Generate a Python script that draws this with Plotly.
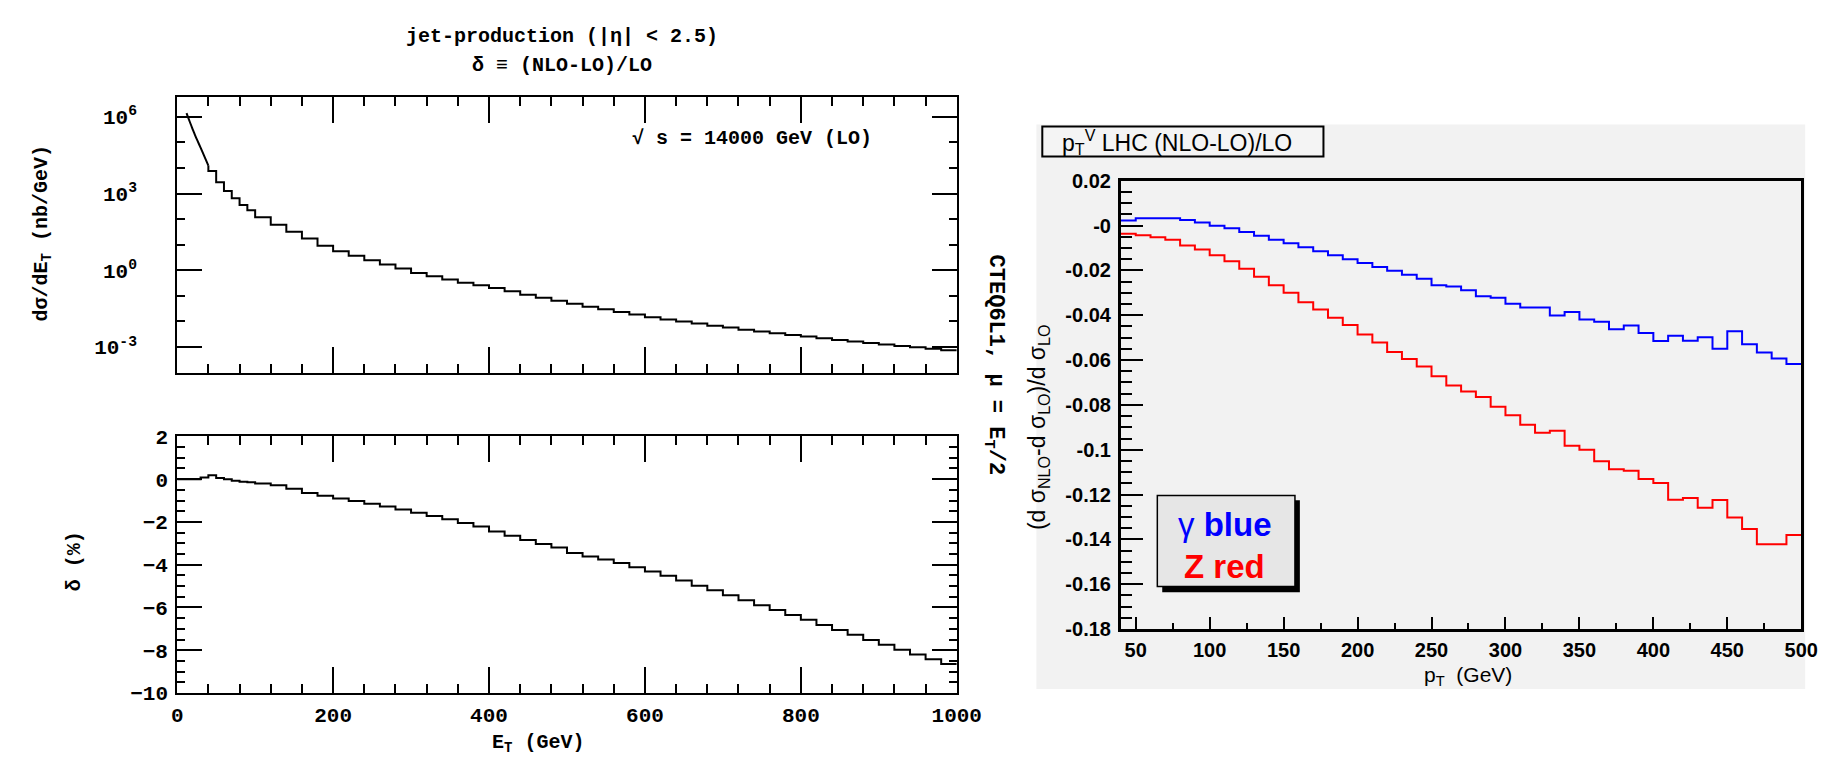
import plotly.graph_objects as go

W, H = 1832, 759

# ---------------- data: left, LO jet cross section (nb/GeV) ----------------
# steep low-ET part (read as a smooth curve)
et_lo_start = [12, 14, 16, 18, 20, 23, 26, 30, 35, 40]
dsig_lo_start = [1.4e6, 9.5e5, 6.6e5, 4.6e5, 3.2e5, 1.9e5, 1.17e5, 6.3e4, 2.8e4, 1.25e4]
# histogram part
et_edges_lo = [40, 50, 60, 70, 80, 90, 100] + list(range(120, 1001, 20))
dsig_lo = [7.6e3, 2.8e3, 1.26e3, 660, 355, 224,
           120, 60, 32, 17.4, 9.1, 5.6, 3.7, 2.5, 1.70, 1.17,
           0.79, 0.59, 0.44, 0.33, 0.263, 0.204, 0.151, 0.112, 0.085, 0.065,
           0.049, 0.038, 0.030, 0.0234, 0.0186, 0.0148, 0.0120, 0.0100, 0.0083, 0.0069,
           0.0058, 0.0048, 0.0041, 0.0035, 0.0030, 0.0026, 0.0022, 0.0019, 0.00166, 0.00145,
           0.00126, 0.00110, 0.00098, 0.00087, 0.00076]

# ---------------- data: left, delta (%) ----------------
et_edges_delta = list(range(0, 101, 10)) + list(range(120, 1001, 20))
delta_pct = [0.0, 0.0, 0.0, 0.08, 0.18, 0.05, 0.0, -0.08, -0.12, -0.15,
             -0.20, -0.28, -0.45, -0.65, -0.78, -0.90, -1.02, -1.15, -1.28, -1.42,
             -1.57, -1.72, -1.88, -2.05, -2.22, -2.45, -2.65, -2.85, -3.03, -3.20,
             -3.45, -3.62, -3.76, -3.92, -4.12, -4.32, -4.52, -4.74, -4.98, -5.20,
             -5.43, -5.66, -5.90, -6.12, -6.35, -6.58, -6.82, -7.05, -7.28, -7.52,
             -7.75, -7.98, -8.20, -8.42, -8.65]

# ---------------- data: right, (NLO-LO)/LO vs pT ----------------
pt_edges = list(range(40, 501, 10))
gamma_ratio = [0.0022, 0.0033, 0.0033, 0.0033, 0.0025, 0.0014, -0.0001, -0.0012, -0.0029, -0.0046,
               -0.0063, -0.0079, -0.0097, -0.0115, -0.0133, -0.0150, -0.0167, -0.0185, -0.0202, -0.0219,
               -0.0237, -0.0266, -0.0272, -0.0289, -0.0315, -0.0322, -0.0349, -0.0365, -0.0365, -0.0401,
               -0.0386, -0.0419, -0.0429, -0.0462, -0.0446, -0.0479, -0.0515, -0.0491, -0.0514, -0.0498,
               -0.0550, -0.0472, -0.0530, -0.0566, -0.0593, -0.0618]
z_ratio = [-0.0036, -0.0043, -0.0052, -0.0063, -0.0089, -0.0107, -0.0133, -0.0159, -0.0193, -0.0228,
           -0.0266, -0.0300, -0.0342, -0.0375, -0.0411, -0.0444, -0.0486, -0.0522, -0.0564, -0.0595,
           -0.0629, -0.0672, -0.0714, -0.0740, -0.0765, -0.0808, -0.0846, -0.0888, -0.0924, -0.0915,
           -0.0982, -0.1000, -0.1051, -0.1087, -0.1094, -0.1130, -0.1148, -0.1223, -0.1215, -0.1259,
           -0.1224, -0.1302, -0.1354, -0.1422, -0.1422, -0.1380]

log_ticks = [1e-3, 1, 1e3, 1e6]
log_ticktext = ["10<sup>-3</sup>", "10<sup>0</sup>", "10<sup>3</sup>", "10<sup>6</sup>"]
ratio_ticks = [0.02, 0.0, -0.02, -0.04, -0.06, -0.08, -0.1, -0.12, -0.14, -0.16, -0.18]
ratio_ticktext = ["0.02", "-0", "-0.02", "-0.04", "-0.06", "-0.08", "-0.1", "-0.12", "-0.14", "-0.16", "-0.18"]


def px(x):
    return x / W


def py(y):
    return 1 - y / H


MONO = "Liberation Mono"
SANS = "Liberation Sans"


def steps(edges, vals):
    return list(edges), list(vals) + [vals[-1]]


fig = go.Figure()

fig.add_trace(go.Scatter(x=et_lo_start, y=dsig_lo_start, mode="lines",
                         line=dict(color="black", width=2, shape="spline", smoothing=0.6),
                         xaxis="x", yaxis="y", showlegend=False))
x, y = steps(et_edges_lo, dsig_lo)
fig.add_trace(go.Scatter(x=[et_lo_start[-1]] + x, y=[dsig_lo_start[-1]] + y, mode="lines",
                         line=dict(shape="hv", color="black", width=2),
                         xaxis="x", yaxis="y", showlegend=False))
x, y = steps(et_edges_delta, delta_pct)
fig.add_trace(go.Scatter(x=x, y=y, mode="lines", line=dict(shape="hv", color="black", width=2),
                         xaxis="x2", yaxis="y2", showlegend=False))
x, y = steps(pt_edges, gamma_ratio)
fig.add_trace(go.Scatter(x=x, y=y, mode="lines", line=dict(shape="hv", color="#0000ff", width=2),
                         xaxis="x3", yaxis="y3", showlegend=False))
x, y = steps(pt_edges, z_ratio)
fig.add_trace(go.Scatter(x=x, y=y, mode="lines", line=dict(shape="hv", color="#ff0000", width=2),
                         xaxis="x3", yaxis="y3", showlegend=False))

left_tickfont = dict(family=MONO, size=21, color="black", weight="bold")
right_tickfont = dict(family=SANS, size=20, color="black", weight="bold")

common_left = dict(showgrid=False, zeroline=False, showline=True, linecolor="black", linewidth=2,
                   mirror="allticks", ticks="inside", tickcolor="black", tickwidth=2)

fig.update_layout(
    width=W, height=H,
    margin=dict(l=0, r=0, t=0, b=0),
    paper_bgcolor="white",
    plot_bgcolor="rgba(0,0,0,0)",
    xaxis=dict(domain=[px(166), px(959)], range=[0, 1000], anchor="y", dtick=200, tick0=0,
               ticklen=26, showticklabels=False,
               minor=dict(dtick=40, tick0=0, ticklen=9, ticks="inside", tickwidth=2, tickcolor="black"),
               **common_left),
    yaxis=dict(domain=[py(366), py(81)], type="log", range=[-4.03, 6.76], anchor="x",
               tickmode="array", tickvals=log_ticks, ticktext=log_ticktext, ticklen=25,
               tickfont=left_tickfont, ticklabelstandoff=34,
               minor=dict(dtick=1, ticklen=8, ticks="inside", tickwidth=2, tickcolor="black"),
               **common_left),
    xaxis2=dict(domain=[px(166), px(959)], range=[0, 1000], anchor="y2", dtick=200, tick0=0,
                ticklen=26, tickfont=left_tickfont, ticklabelstandoff=2,
                minor=dict(dtick=40, tick0=0, ticklen=9, ticks="inside", tickwidth=2, tickcolor="black"),
                **common_left),
    yaxis2=dict(domain=[py(696), py(431)], range=[-10, 2], anchor="x2", dtick=2, tick0=0,
                ticklen=25, tickfont=left_tickfont, ticklabelstandoff=3,
                minor=dict(dtick=0.5, tick0=0, ticklen=8, ticks="inside", tickwidth=2, tickcolor="black"),
                **common_left),
    xaxis3=dict(domain=[px(1126), px(1818)], range=[40, 500], anchor="y3", dtick=50, tick0=0,
                showgrid=False, zeroline=False, showline=True, linecolor="black", linewidth=3,
                mirror=True, ticks="inside", ticklen=12, tickwidth=2, tickcolor="black",
                tickfont=right_tickfont, ticklabelstandoff=1,
                minor=dict(dtick=25, tick0=0, ticklen=6, ticks="inside", tickwidth=2, tickcolor="black")),
    yaxis3=dict(domain=[py(630), py(167)], range=[-0.18, 0.02], anchor="x3",
                tickmode="array", tickvals=ratio_ticks, ticktext=ratio_ticktext,
                showgrid=False, zeroline=False, showline=True, linecolor="black", linewidth=3,
                mirror=True, ticks="inside", ticklen=22, tickwidth=2, tickcolor="black",
                tickfont=right_tickfont, ticklabelstandoff=3,
                minor=dict(dtick=0.005, tick0=0, ticklen=11, ticks="inside", tickwidth=2, tickcolor="black")),
)

shapes = [
    dict(type="rect", xref="paper", yref="paper", x0=px(1040), x1=px(1822), y0=py(692), y1=py(109),
         fillcolor="#f2f2f2", line=dict(width=0), layer="below"),
    dict(type="rect", xref="paper", yref="paper", x0=px(1046), x1=px(1332), y0=py(142), y1=py(111),
         fillcolor="#f4f4f4", line=dict(color="black", width=2), layer="below"),
    dict(type="rect", xref="paper", yref="paper", x0=px(1168), x1=px(1308), y0=py(592), y1=py(497),
         fillcolor="black", line=dict(width=0), layer="above"),
    dict(type="rect", xref="paper", yref="paper", x0=px(1163), x1=px(1303), y0=py(586), y1=py(492),
         fillcolor="#e6e6e6", line=dict(color="black", width=1.5), layer="above"),
]
fig.update_layout(shapes=shapes)


def ann(text, x, y, size, family=MONO, weight="bold", color="black", angle=0, xanchor="center"):
    return dict(text=text, x=px(x), y=py(y), xref="paper", yref="paper", showarrow=False,
                xanchor=xanchor, yanchor="middle", textangle=angle,
                font=dict(family=family, size=size, color=color, weight=weight))


annotations = [
    ann("jet-production (|η| &lt; 2.5)", 557, 18, 20),
    ann("δ ≡ (NLO-LO)/LO", 557, 48, 20),
    ann("√ s = 14000 GeV (LO)", 751, 123, 20),
    ann("dσ/dE<sub>T</sub> (nb/GeV)", 29, 222, 20, angle=-90),
    ann("δ (%)", 61, 560, 20, angle=-90),
    ann("E<sub>T</sub> (GeV)", 533, 748, 20),
    ann("CTEQ6L1, μ = E<sub>T</sub>/2", 997, 357, 22, angle=90),
    ann("p<sub>T</sub><sup>V</sup> LHC (NLO-LO)/LO", 1064, 127, 23, family=SANS, weight="normal",
        xanchor="left"),
    ann("(d σ<sub>NLO</sub>-d σ<sub>LO</sub>)/d σ<sub>LO</sub>", 1042, 421, 23,
        family=SANS, weight="normal", angle=-90),
    ann("p<sub>T</sub>  (GeV)", 1479, 678, 21, family=SANS, weight="normal"),
    ann("γ <b>blue</b>", 1232, 522, 33, family=SANS, weight="normal", color="#0000ff"),
    ann("<b>Z red</b>", 1231, 565, 33, family=SANS, weight="bold", color="#ff0000"),
]
fig.update_layout(annotations=annotations)

fig.write_html("out.html")
